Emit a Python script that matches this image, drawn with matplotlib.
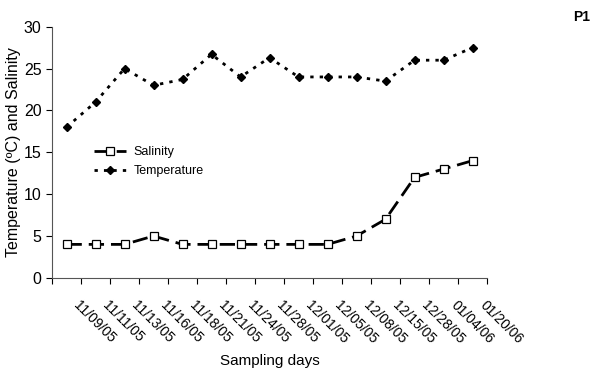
"""Temperature and salinity over sampling days (P1)."""

import matplotlib
matplotlib.use("Agg")
import matplotlib.pyplot as plt
import numpy as np

plt.rcParams["font.family"] = ["Liberation Sans", "DejaVu Sans"]

dates = ["11/09/05", "11/11/05", "11/13/05", "11/16/05", "11/18/05", "11/21/05",
         "11/24/05", "11/28/05", "12/01/05", "12/05/05", "12/08/05", "12/15/05",
         "12/28/05", "01/04/06", "01/20/06"]
salinity = [4, 4, 4, 5, 4, 4, 4, 4, 4, 4, 5, 7, 12, 13, 14]
temperature = [18, 21, 25, 23, 23.7, 26.7, 24, 26.3, 24, 24, 24, 23.5, 26, 26, 27.5]

n = len(dates)
x = np.arange(n) + 0.5

fig = plt.figure(figsize=(6.05, 3.71), dpi=100)
ax = fig.add_axes([0.086, 0.251, 0.719, 0.677])

ax.plot(x, salinity, color="black", linestyle=(0, (5.5, 2.5)), linewidth=2,
        marker="s", markersize=6, markerfacecolor="white", markeredgecolor="black",
        markeredgewidth=0.9, label="Salinity")
ax.plot(x, temperature, color="black", linestyle=(0, (1.2, 2.2)), linewidth=2,
        marker="D", markersize=4, markerfacecolor="black", markeredgecolor="black",
        label="Temperature")

ax.set_xlim(0, n)
ax.set_ylim(0, 30)
ax.set_yticks(range(0, 31, 5))
ax.set_xticks(range(0, n + 1))
ax.set_xticklabels([""] + dates, rotation=-45, ha="left", va="top",
                   rotation_mode="anchor", fontsize=10)
ax.tick_params(axis="both", direction="out", length=4, width=0.8, colors="black")
ax.tick_params(axis="y", labelsize=11.5)
ax.tick_params(axis="x", pad=11)
for side in ("top", "right"):
    ax.spines[side].set_visible(False)
for side in ("left", "bottom"):
    ax.spines[side].set_linewidth(0.8)
    ax.spines[side].set_color("#555555")

ax.set_xlabel("Sampling days", fontsize=11, labelpad=5)
ax.set_ylabel("Temperature (ºC) and Salinity", fontsize=11.5, labelpad=2)

ax.legend(loc="upper left", bbox_to_anchor=(0.07, 0.57), frameon=False,
          fontsize=9, handlelength=2.6, labelspacing=0.6, handletextpad=0.6)

fig.text(0.975, 0.955, "P1", fontsize=10, fontweight="bold", ha="right", va="center")

fig.savefig("out.png", dpi=100)
